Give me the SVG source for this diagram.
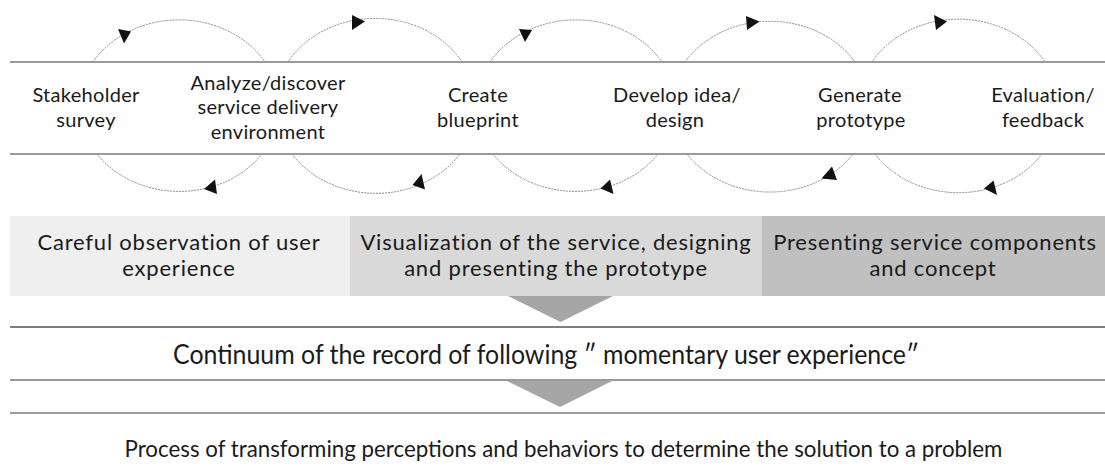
<svg xmlns="http://www.w3.org/2000/svg" width="1105" height="469" viewBox="0 0 1105 469">
<style>
.lbl{font-family:Lato,"Open Sans",sans-serif;font-size:20px;letter-spacing:0.3px;fill:#1a1a1a;text-anchor:middle}
.box{font-family:Lato,"Open Sans",sans-serif;font-size:22px;letter-spacing:0.8px;fill:#1a1a1a;text-anchor:middle}
.big{font-family:Lato,"Open Sans",sans-serif;font-size:27px;fill:#1a1a1a;text-anchor:middle}
.big2{font-family:Lato,"Open Sans",sans-serif;font-size:22.3px;fill:#1a1a1a;text-anchor:middle}
.band{stroke:#7a7a7a;stroke-width:1.5;fill:none}
.rule{stroke:#555;stroke-width:1.5;fill:none}
.arc{stroke:#8a8a8a;stroke-width:1;fill:none;stroke-dasharray:2 1}
.head{fill:#111}
.down{fill:#a6a6a6}
</style>
<rect width="1105" height="469" fill="#fff"/>
<g id="band-lines">
<line class="band" x1="10" y1="62" x2="1105" y2="62"/>
<line class="band" x1="10" y1="154" x2="1105" y2="154"/>
</g>
<g id="connectors">
<path class="arc" d="M93,62 A100,86 0 0 1 265,62"/>
<path class="arc" d="M288,62 A100,86 0 0 1 462,62"/>
<path class="arc" d="M490,62 A100,86 0 0 1 662,62"/>
<path class="arc" d="M685,62 A100,86 0 0 1 855,62"/>
<path class="arc" d="M872,62 A100,86 0 0 1 1045,62"/>
<path class="arc" d="M97,154 A100,86 0 0 0 262,154"/>
<path class="arc" d="M292,154 A100,86 0 0 0 460,154"/>
<path class="arc" d="M493,154 A100,86 0 0 0 658,154"/>
<path class="arc" d="M687,154 A100,86 0 0 0 853,154"/>
<path class="arc" d="M875,154 A100,86 0 0 0 1042,154"/>
<polygon class="head" points="118,29 131,31.5 124,43.5"/>
<polygon class="head" points="352,15 352,30 365,21.5"/>
<polygon class="head" points="519,29 532,30 525,42"/>
<polygon class="head" points="746,16 747,30 759.5,21.5"/>
<polygon class="head" points="934,15 936,30 947,21.5"/>
<polygon class="head" points="204,189 215,179.5 217,194"/>
<polygon class="head" points="412.5,185 421.5,174 425,189.5"/>
<polygon class="head" points="600.5,188.5 610,179.5 613.5,194"/>
<polygon class="head" points="821.5,178.5 837,180 832,166.5"/>
<polygon class="head" points="984,188.5 993.5,180.5 997,195"/>
<polygon class="down" points="508,296 613,296 560.5,322"/>
<polygon class="down" points="507,381 612,381 560,407"/>
</g>
<g id="n1"><text class="lbl" x="86" y="102">Stakeholder</text><text class="lbl" x="86" y="126.5">survey</text></g>
<g id="n2"><text class="lbl" x="268" y="89.5">Analyze/discover</text><text class="lbl" x="268" y="114">service delivery</text><text class="lbl" x="268" y="138.5">environment</text></g>
<g id="n3"><text class="lbl" x="478" y="102">Create</text><text class="lbl" x="478" y="126.5">blueprint</text></g>
<g id="n4"><text class="lbl" x="677" y="102">Develop idea/</text><text class="lbl" x="675" y="126.5">design</text></g>
<g id="n5"><text class="lbl" x="860" y="102">Generate</text><text class="lbl" x="861" y="126.5">prototype</text></g>
<g id="n6"><text class="lbl" x="1043" y="102">Evaluation/</text><text class="lbl" x="1043" y="126.5">feedback</text></g>
<g id="stage1"><rect x="10" y="216" width="340" height="80" fill="#efefef"/><text class="box" x="179" y="249.5">Careful observation of user</text><text class="box" x="179" y="276">experience</text></g>
<g id="stage2"><rect x="350" y="216" width="412" height="80" fill="#d9d9d9"/><text class="box" x="556" y="249.5">Visualization of the service, designing</text><text class="box" x="556" y="276">and presenting the prototype</text></g>
<g id="stage3"><rect x="762" y="216" width="343" height="80" fill="#c0c0c0"/><text class="box" x="935" y="249.5">Presenting service components</text><text class="box" x="933" y="276">and concept</text></g>
<g id="rules">
<line class="rule" x1="10" y1="327" x2="1105" y2="327" stroke="#333"/>
<line class="band" x1="10" y1="380" x2="1105" y2="380"/>
<line class="band" x1="10" y1="413" x2="1105" y2="413"/>
</g>
<g id="record"><text class="big" x="546" y="364" textLength="746" lengthAdjust="spacingAndGlyphs">Continuum of the record of following ″ momentary user experience″</text></g>
<g id="process"><text class="big2" x="563.5" y="457">Process of transforming perceptions and behaviors to determine the solution to a problem</text></g>
</svg>
